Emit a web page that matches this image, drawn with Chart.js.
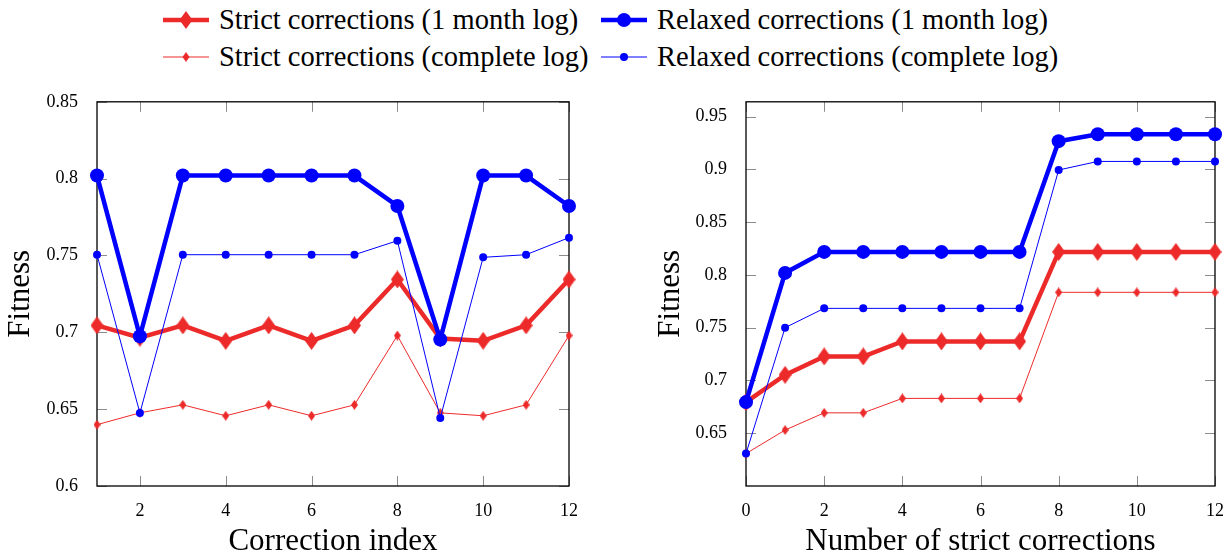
<!DOCTYPE html>
<html>
<head>
<meta charset="utf-8">
<script src="https://cdn.jsdelivr.net/npm/chart.js@4"></script>
<style>
  body { margin: 0; background: #fff; width: 1230px; height: 556px; position: relative; overflow: hidden; }
  canvas { position: absolute; }
  #legend { position: absolute; left: 163px; top: 0; font-family: "Liberation Serif", serif; font-size: 28.5px; color: #000; }
  .item { position: absolute; white-space: nowrap; display: flex; align-items: center; height: 37px; }
  .item svg { margin-right: 10px; }
</style>
</head>
<body>
<div id="legend"></div>
<canvas id="left" width="615" height="476" style="left:0;top:80px"></canvas>
<canvas id="right" width="580" height="476" style="left:650px;top:80px"></canvas>
<script>
// series names (legend order = draw order)
const seriesNames = [
  'Strict corrections (1 month log)',
  'Relaxed corrections (1 month log)',
  'Strict corrections (complete log)',
  'Relaxed corrections (complete log)'
];

// left plot: fitness per correction index
const leftX = [1, 2, 3, 4, 5, 6, 7, 8, 9, 10, 11, 12];
const leftStrictMonth = [0.7045, 0.6965, 0.7045, 0.6944, 0.7045, 0.6944, 0.7045, 0.7344, 0.696, 0.6945, 0.7045, 0.7344];
const leftRelaxedMonth = [0.802, 0.6974, 0.802, 0.802, 0.802, 0.802, 0.802, 0.7822, 0.6953, 0.802, 0.802, 0.7822];
const leftStrictComplete = [0.6399, 0.6476, 0.6528, 0.6457, 0.6528, 0.6457, 0.6528, 0.6979, 0.6476, 0.6457, 0.6528, 0.6979];
const leftRelaxedComplete = [0.7505, 0.6475, 0.7505, 0.7505, 0.7505, 0.7505, 0.7505, 0.7596, 0.6443, 0.7488, 0.7505, 0.7616];
const leftXTicks = [2, 4, 6, 8, 10, 12];
const leftYTicks = [0.6, 0.65, 0.7, 0.75, 0.8, 0.85];

// right plot: fitness vs number of strict corrections
const rightX = [0, 1, 2, 3, 4, 5, 6, 7, 8, 9, 10, 11, 12];
const rightStrictMonth = [0.6795, 0.7053, 0.7227, 0.7227, 0.737, 0.737, 0.737, 0.737, 0.8218, 0.8218, 0.8218, 0.8218, 0.8218];
const rightRelaxedMonth = [0.6795, 0.8019, 0.8218, 0.8218, 0.8218, 0.8218, 0.8218, 0.8218, 0.9267, 0.9332, 0.9332, 0.9332, 0.9332];
const rightStrictComplete = [0.6307, 0.653, 0.6693, 0.6693, 0.683, 0.683, 0.683, 0.683, 0.7835, 0.7835, 0.7835, 0.7835, 0.7835];
const rightRelaxedComplete = [0.6307, 0.75, 0.7683, 0.7683, 0.7683, 0.7683, 0.7683, 0.7683, 0.8994, 0.9075, 0.9075, 0.9075, 0.9075];
const rightXTicks = [0, 2, 4, 6, 8, 10, 12];
const rightYTicks = [0.65, 0.7, 0.75, 0.8, 0.85, 0.9, 0.95];

const RED = 'rgb(237,42,42)';
const BLUE = 'rgb(0,0,255)';
const SERIF = '"Liberation Serif", serif';

function diamond(w, h, color) {
  const c = document.createElement('canvas');
  c.width = w; c.height = h;
  const ctx = c.getContext('2d');
  ctx.fillStyle = color;
  ctx.beginPath();
  ctx.moveTo(w / 2, 0); ctx.lineTo(w, h / 2); ctx.lineTo(w / 2, h); ctx.lineTo(0, h / 2);
  ctx.closePath(); ctx.fill();
  return c;
}

const styles = [
  { color: RED, width: 4.5, point: diamond(13, 18, RED), radius: 8 },
  { color: BLUE, width: 4.5, point: 'circle', radius: 7 },
  { color: RED, width: 1, point: diamond(7, 10, RED), radius: 4 },
  { color: BLUE, width: 1, point: 'circle', radius: 4 }
];

function makeDatasets(xs, series) {
  return series.map((ys, i) => ({
    label: seriesNames[i],
    data: xs.map((x, k) => ({ x: x, y: ys[k] })),
    borderColor: styles[i].color,
    backgroundColor: styles[i].color,
    borderWidth: styles[i].width,
    pointStyle: styles[i].point,
    pointRadius: styles[i].radius,
    pointBorderWidth: 0,
    tension: 0,
    clip: false,
    order: 3 - i
  }));
}

// inward tick marks on all four sides plus the box frame
const frameTicks = {
  id: 'frameTicks',
  beforeDatasetsDraw(chart) {
    const { ctx, chartArea: a, scales: { x, y } } = chart;
    const len = 10;
    ctx.save();
    ctx.strokeStyle = 'rgba(0,0,0,0.45)';
    ctx.lineWidth = 1;
    ctx.beginPath();
    x.ticks.forEach(t => {
      const px = Math.round(x.getPixelForValue(t.value)) + 0.5;
      ctx.moveTo(px, a.bottom); ctx.lineTo(px, a.bottom - len);
      ctx.moveTo(px, a.top); ctx.lineTo(px, a.top + len);
    });
    y.ticks.forEach(t => {
      const py = Math.round(y.getPixelForValue(t.value)) + 0.5;
      ctx.moveTo(a.left, py); ctx.lineTo(a.left + len, py);
      ctx.moveTo(a.right, py); ctx.lineTo(a.right - len, py);
    });
    ctx.stroke();
    ctx.strokeStyle = '#000';
    ctx.lineWidth = 1.3;
    ctx.strokeRect(a.left, a.top, a.right - a.left, a.bottom - a.top);
    ctx.restore();
  }
};

function makeChart(id, xs, series, xMin, xMax, xTicks, yMin, yMax, yTicks, xTitle, yWidth, padRight) {
  return new Chart(document.getElementById(id), {
    type: 'line',
    data: { datasets: makeDatasets(xs, series) },
    options: {
      responsive: false,
      animation: false,
      devicePixelRatio: 1,
      layout: { padding: { top: 16, right: padRight, bottom: 0, left: 0 } },
      plugins: { legend: { display: false }, tooltip: { enabled: false } },
      scales: {
        x: {
          type: 'linear', min: xMin, max: xMax,
          grid: { display: false }, border: { display: false },
          afterBuildTicks: s => { s.ticks = xTicks.map(v => ({ value: v })); },
          afterFit: s => { s.height = 70; },
          ticks: { padding: 6, color: '#000', font: { family: SERIF, size: 18 }, callback: v => String(v) },
          title: { display: true, text: xTitle, color: '#000', font: { family: SERIF, size: 31, lineHeight: 0.9 }, padding: { top: 0, bottom: 0 } }
        },
        y: {
          type: 'linear', min: yMin, max: yMax,
          grid: { display: false }, border: { display: false },
          afterBuildTicks: s => { s.ticks = yTicks.map(v => ({ value: v })); },
          afterFit: s => { s.width = yWidth; },
          ticks: { padding: 11, color: '#000', font: { family: SERIF, size: 18 }, callback: v => String(v) },
          title: { display: true, text: 'Fitness', color: '#000', font: { family: SERIF, size: 31 }, padding: { top: 2, bottom: 0 } }
        }
      }
    },
    plugins: [frameTicks]
  });
}

makeChart('left', leftX, [leftStrictMonth, leftRelaxedMonth, leftStrictComplete, leftRelaxedComplete],
  1, 12, leftXTicks, 0.6, 0.85, leftYTicks, 'Correction index', 97, 46);
makeChart('right', rightX, [rightStrictMonth, rightRelaxedMonth, rightStrictComplete, rightRelaxedComplete],
  0, 12, rightXTicks, 0.6, 0.964, rightYTicks, 'Number of strict corrections', 96, 13);

// legend: two columns, two rows
const legend = document.getElementById('legend');
seriesNames.forEach((name, i) => {
  const s = styles[i];
  const col = i % 2, row = Math.floor(i / 2);
  const mark = s.point === 'circle'
    ? `<circle cx="23" cy="10" r="${s.radius}" fill="${s.color}"/>`
    : `<polygon points="23,${10 - s.point.height / 2} ${23 + s.point.width / 2},10 23,${10 + s.point.height / 2} ${23 - s.point.width / 2},10" fill="${s.color}"/>`;
  const div = document.createElement('div');
  div.className = 'item';
  div.style.left = (col * 438) + 'px';
  div.style.top = (row * 37 + 1) + 'px';
  div.innerHTML = `<svg width="46" height="20"><line x1="0" y1="10" x2="46" y2="10" stroke="${s.color}" stroke-width="${s.width}"/>${mark}</svg><span>${name}</span>`;
  legend.appendChild(div);
});
</script>
</body>
</html>
